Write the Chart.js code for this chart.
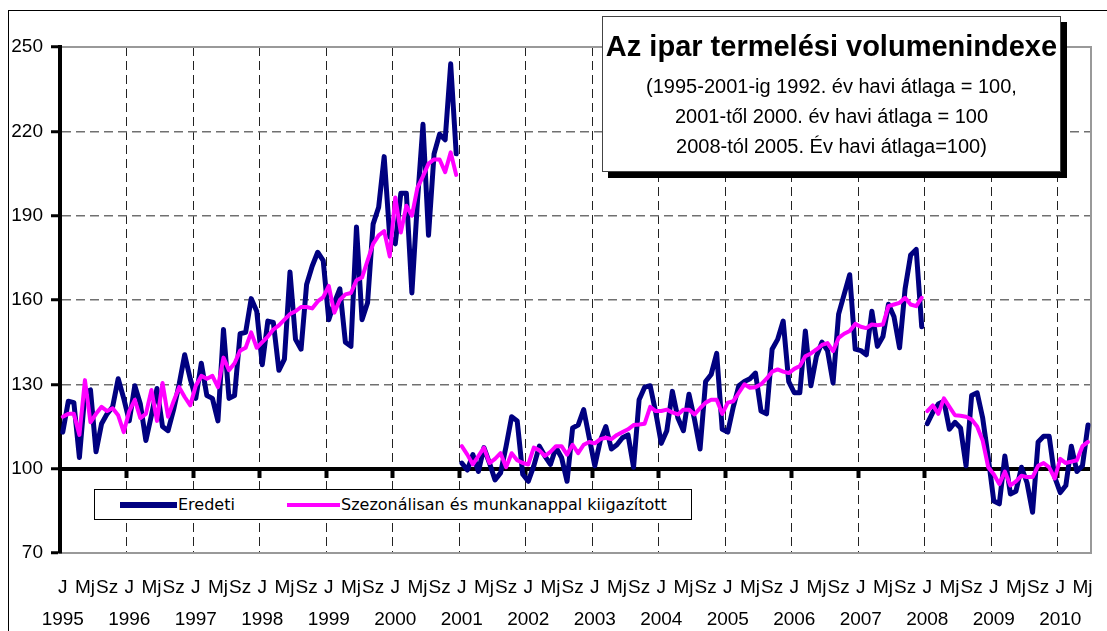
<!DOCTYPE html>
<html>
<head>
<meta charset="utf-8">
<script src="https://cdn.jsdelivr.net/npm/chart.js@4.4.1/dist/chart.umd.min.js"></script>
<style>
  body { margin: 0; background: #fff; overflow: hidden; }
  #wrap { position: relative; width: 1107px; height: 631px; overflow: hidden; }
  #frame { position: absolute; left: 8px; top: 10px; width: 1200px; height: 700px; border: 1px solid #000; }
  #chart { position: absolute; left: 0; top: 0; }
  #title {
    position: absolute; left: 602px; top: 16px; width: 459px; height: 156px;
    box-sizing: border-box; border: 1px solid #444; background: #fff;
    box-shadow: 6px 6px 0 #000; text-align: center;
    font-family: "Liberation Sans", Arial, sans-serif; color: #000;
  }
  #title .t1 { position: absolute; left: 0; right: 0; top: 12px; line-height: 34px; font-size: 29px; font-weight: bold; }
  #title .t2 { position: absolute; left: 0; right: 0; top: 54px; line-height: 30px; font-size: 20px; }
  #legend {
    position: absolute; left: 94px; top: 489px; width: 598px; height: 31px;
    box-sizing: border-box; border: 1px solid #000; background: #fff;
    font-family: "DejaVu Sans", Verdana, sans-serif; font-size: 16px; color: #000;
  }
  #legend .sw { position: absolute; }
  #legend .tx { position: absolute; top: 0; line-height: 29px; white-space: nowrap; }
</style>
</head>
<body>
<div id="wrap">
  <div id="frame"></div>
  <canvas id="chart" width="1107" height="631"></canvas>
  <div id="title">
    <div class="t1">Az ipar termelési volumenindexe</div>
    <div class="t2">(1995-2001-ig 1992. év havi átlaga = 100,<br>2001-től 2000. év havi átlaga = 100<br>2008-tól 2005. Év havi átlaga=100)</div>
  </div>
  <div id="legend"></div>
</div>
<script>
const years = [1995, 1996, 1997, 1998, 1999, 2000, 2001, 2002, 2003, 2004, 2005, 2006, 2007, 2008, 2009, 2010];
const lastMonth2010 = 6;
const monthTicks = ["J", "", "", "", "Mj", "", "", "", "Sz", "", "", ""];
const seriesNames = ["Eredeti", "Szezonálisan és munkanappal kiigazított"];
const seriesColors = ["#000080", "#ff00ff"];

// 1995-2000 (1992 = 100)
const eredeti1995 = [
  113, 124, 123.5, 104, 127, 128, 106, 116, 119.5, 122, 132, 125,
  117, 129.5, 123, 110, 119, 128.5, 115, 113.5, 121, 130, 140.5, 132,
  125, 137.5, 126, 125, 117, 149.5, 125, 126, 148, 148.5, 160.5, 156,
  137, 152.5, 152, 135, 139, 170, 146, 142.5, 165.5, 172, 177, 174,
  153, 159, 164, 145, 143.5, 186, 153, 159, 187, 193, 211, 182.5,
  180, 198, 198, 162.5, 195, 222.5, 183, 212, 219, 217, 244, 212
];
const kiigazitott1995 = [
  118.5, 119.5, 119.5, 112, 131.5, 116.5, 119.5, 122, 120.5, 121.5, 119, 113,
  120.5, 124.5, 118, 119.5, 128, 117, 130.5, 118.5, 124, 129, 125.5, 122.5,
  129.5, 133, 132, 133, 129, 139.5, 135, 137.5, 142, 143, 148.5, 143,
  145, 147, 149.5, 151, 153, 155, 156, 157.5, 157.5, 157, 159.5, 161,
  165, 155.5, 160, 162, 162.5, 167, 168, 174, 180, 183, 184.5, 175.5,
  196.5, 184, 193.5, 190, 200, 204, 208.5, 210, 210, 205.5, 212.5, 204.5
];
// 2001-2007 (2000 = 100)
const eredeti2001 = [
  102, 99.5, 105, 99, 107.5, 102, 96, 98.5, 108, 118.5, 117, 98,
  95.5, 101, 108, 104.5, 101.5, 107.5, 104, 95.5, 114.5, 115.5, 121, 111,
  101, 110, 115, 107, 108.5, 111, 112, 100.5, 124.5, 129, 129.5, 120,
  109, 113.5, 127.5, 118, 113.5, 126.5, 117.5, 107, 131, 133.5, 141, 114,
  113, 122, 129.5, 131, 132, 134, 120.5, 119.5, 142.5, 146, 152.5, 131,
  127, 127, 149, 129.5, 140, 145, 142, 130.5, 155, 162, 169, 142.5,
  142, 140.5, 156, 143.5, 147, 158.5, 154, 143, 164, 176, 178, 150.5
];
const kiigazitott2001 = [
  108, 105, 101.5, 104.5, 107.5, 102, 103.5, 105.5, 100.5, 105.5, 103, 102,
  101.5, 107.5, 106.5, 104.5, 106, 108, 108, 105, 108.5, 105.5, 108.5, 109.5,
  109, 110.5, 111, 110.5, 112, 113, 114, 115.5, 115.7, 116, 122, 120.5,
  120.5, 121, 120, 119.3, 121, 121, 119.3, 121.5, 123.5, 124.5, 124.5, 119.5,
  123.5, 124, 127, 130, 128.8, 129, 130, 132, 134.5, 135.3, 134.5, 134,
  135.5, 136.5, 140, 141, 142.4, 144, 144.7, 141.8, 146.5, 148, 149, 151.5,
  150.5, 150, 151.3, 151, 151.3, 157.8, 158.4, 159, 160.8, 158.4, 157.8, 160.8
];
// 2008-2010 (2005 = 100)
const eredeti2008 = [
  116, 120, 123, 124, 114, 116.5, 114.5, 101, 126, 127, 118, 104,
  88.5, 87.5, 104.5, 91, 92, 100.5, 95, 84.5, 109.5, 111.5, 111.5, 97,
  91.5, 94, 108, 99, 101, 115.5
];
const kiigazitott2008 = [
  120.5, 122.5, 119.5, 125, 122, 119, 118.8, 118.5, 117.5, 115, 110, 100.5,
  98, 94.5, 99, 94, 95.5, 97.5, 97, 97, 101, 102, 100.5, 96.5,
  103.5, 102, 102.5, 103, 108, 109.5
];
const yTicks = [70, 100, 130, 160, 190, 220, 250];

const labels = [];
years.forEach(y => {
  for (let m = 1; m <= 12; m++) {
    if (y === 2010 && m > lastMonth2010) break;
    labels.push(y + "-" + String(m).padStart(2, "0"));
  }
});

function pad(values, startLabel) {
  const out = new Array(labels.length).fill(null);
  const s = labels.indexOf(startLabel);
  values.forEach((v, i) => { out[s + i] = v; });
  return out;
}

function line(name, data, idx) {
  return {
    label: name,
    data: data,
    xAxisID: "x",
    yAxisID: "y",
    borderColor: seriesColors[idx],
    backgroundColor: seriesColors[idx],
    borderWidth: idx === 0 ? 5 : 4,
    pointRadius: 0,
    tension: 0,
    spanGaps: false,
    borderJoinStyle: "round",
    borderCapStyle: "round",
    order: idx === 0 ? 2 : 1
  };
}

const datasets = [
  line(seriesNames[0], pad(eredeti1995, "1995-01"), 0),
  line(seriesNames[0], pad(eredeti2001, "2001-01"), 0),
  line(seriesNames[0], pad(eredeti2008, "2008-01"), 0),
  line(seriesNames[1], pad(kiigazitott1995, "1995-01"), 1),
  line(seriesNames[1], pad(kiigazitott2001, "2001-01"), 1),
  line(seriesNames[1], pad(kiigazitott2008, "2008-01"), 1)
];

const axisFont = { family: "'Liberation Sans', Arial, sans-serif", size: 19, lineHeight: 32 / 19 };

new Chart(document.getElementById("chart"), {
  type: "line",
  data: { labels: labels, datasets: datasets },
  options: {
    responsive: false,
    animation: false,
    layout: { padding: { top: 47, right: 7, left: 0, bottom: 0 } },
    plugins: { legend: { display: false }, tooltip: { enabled: false } },
    scales: {
      x: {
        type: "category",
        offset: true,
        grid: {
          offset: true,
          drawTicks: false,
          lineWidth: 1,
          color: ctx => (ctx.index % 12 === 0 ? "#222" : "transparent")
        },
        border: { color: "#999", width: 2, dash: [9, 5] },
        ticks: {
          autoSkip: false,
          maxRotation: 0,
          minRotation: 0,
          padding: 19,
          color: "#000",
          font: axisFont,
          callback: function (value, index) {
            const m = index % 12;
            const t = monthTicks[m];
            if (m === 0) return [t, String(years[Math.floor(index / 12)])];
            return t;
          }
        },
        afterFit: s => { s.height = 78; }
      },
      x2: {
        type: "category",
        position: { y: 100 },
        offset: true,
        ticks: { display: false },
        grid: {
          offset: true,
          drawOnChartArea: false,
          drawTicks: true,
          tickLength: 7,
          tickWidth: 4,
          tickColor: ctx => (ctx.index % 12 === 0 && ctx.index > 0 ? "#000" : "transparent")
        },
        border: { color: "#000", width: 4 }
      },
      y: {
        min: 70,
        max: 250,
        afterBuildTicks: s => { s.ticks = yTicks.map(v => ({ value: v })); },
        ticks: { color: "#000", padding: 8, font: axisFont },
        grid: {
          lineWidth: 1.5,
          color: ctx => {
            const v = ctx.tick ? ctx.tick.value : null;
            return v === 70 || v === 100 || v === 250 ? "transparent" : "#707070";
          },
          drawTicks: true,
          tickLength: 9,
          tickWidth: 3,
          tickColor: "#000"
        },
        border: { color: "#000", width: 4, dash: [9, 5] },
        afterFit: s => { s.width = 60; }
      },
      y2: {
        position: "right",
        min: 70,
        max: 250,
        afterBuildTicks: s => { s.ticks = yTicks.map(v => ({ value: v })); },
        ticks: { display: false },
        grid: {
          lineWidth: 2,
          drawTicks: false,
          color: ctx => (ctx.tick && ctx.tick.value === 250 ? "#999" : "transparent")
        },
        border: { color: "#999", width: 2 },
        afterFit: s => { s.width = 0; }
      }
    }
  }
});

// legend box built from the series names and colours
const legend = document.getElementById("legend");
const legendPos = [{ sw: 25, w: 57, h: 6, tx: 83 }, { sw: 192, w: 53, h: 4, tx: 246 }];
seriesNames.forEach((name, i) => {
  const p = legendPos[i];
  const sw = document.createElement("div");
  sw.className = "sw";
  sw.style.cssText = "left:" + p.sw + "px;width:" + p.w + "px;height:" + p.h + "px;top:" + (15 - p.h / 2) + "px;background:" + seriesColors[i];
  const tx = document.createElement("div");
  tx.className = "tx";
  tx.style.left = p.tx + "px";
  tx.textContent = name;
  legend.appendChild(sw);
  legend.appendChild(tx);
});
</script>
</body>
</html>
